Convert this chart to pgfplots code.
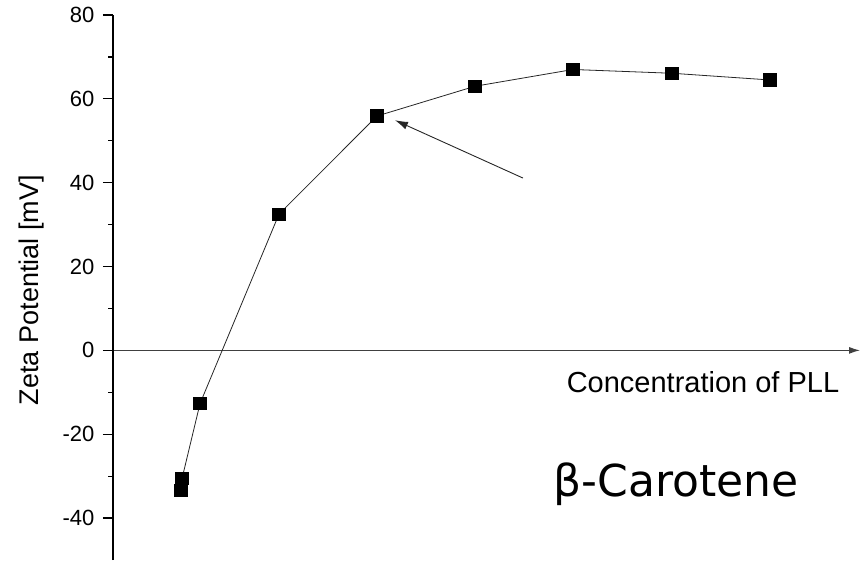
\documentclass[border=0pt]{standalone}
\usepackage{fontspec}
\setmainfont{Liberation Sans}
\newfontfamily\labelfont{DejaVu Sans}
\usepackage{pgfplots}
\pgfplotsset{compat=1.18}
\usetikzlibrary{arrows.meta}

\begin{document}
\begin{tikzpicture}
\begin{axis}[
  at={(113pt,0pt)}, anchor=south west,
  scale only axis,
  width=747pt, height=545pt,
  xmin=113, xmax=860,
  ymin=-50, ymax=80,
  clip=false,
  axis y line*=left,
  axis x line*=middle,
  x axis line style={-{Latex[length=11pt,width=7pt]}, line width=1.1pt, black!75},
  y axis line style={line width=1.5pt, black},
  xtick=\empty,
  ytick={-40,-20,0,20,40,60,80},
  minor y tick num=1,
  tick align=outside,
  major tick length=10pt,
  minor tick length=5pt,
  tick style={line width=1.2pt, black},
  /pgf/number format/assume math mode=true,
  yticklabel style={font=\fontsize{22}{25}\selectfont, xshift=-5pt},
  ylabel={Zeta Potential [mV]},
  ylabel style={at={(axis description cs:-0.1095,0.495)}, anchor=center,
                font=\fontsize{27}{31}\selectfont},
]
% zeta potential against PLL concentration (horizontal axis in arbitrary units)
\addplot[black!85, line width=0.8pt, mark=square*,
         mark options={solid, fill=black, draw=black}, mark size=6.2pt]
  coordinates {
    (181,-33.4) (182,-30.6) (200,-12.7) (279,32.5) (377,55.9)
    (475,63.0) (573,67.0) (672,66.1) (770,64.5)
  };

% pointer to the plateau onset
\draw[-{Latex[length=13pt,width=8pt]}, black!85, line width=0.9pt]
  (axis cs:523,41.1) -- (axis cs:395,54.9);

\node[anchor=base, font=\fontsize{29}{33}\selectfont] at (axis cs:703,-10.0)
  {Concentration of PLL};
\node[anchor=base, font=\labelfont\fontsize{44}{50}\selectfont] at (axis cs:676,-34.9)
  {β-Carotene};
\end{axis}
\pgfresetboundingbox
\path (0pt,0pt) rectangle (862pt,560pt);
\end{tikzpicture}
\end{document}
